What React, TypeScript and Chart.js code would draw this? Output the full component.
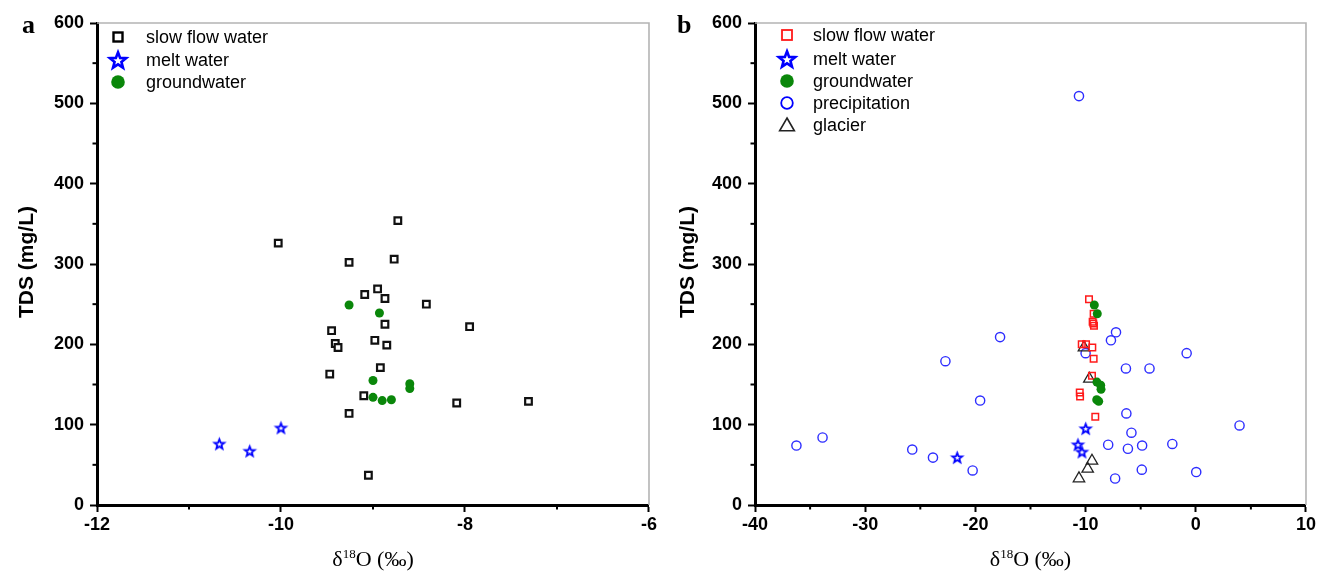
import React, { useEffect, useRef } from 'react';
import { Chart, registerables } from 'chart.js';

Chart.register(...registerables);

const SANS = '"Liberation Sans", Arial, Helvetica, sans-serif';
const SERIF = '"Liberation Serif", "Times New Roman", Times, serif';

// ---------- Panel a data ----------
const slowAX = [-10.03, -9.26, -8.77, -8.73, -8.95, -9.09, -8.87, -8.42, -7.95, -8.87, -9.45, -9.41, -9.38, -8.98, -8.85, -8.92, -9.47, -9.10, -9.26, -8.09, -7.31, -9.05];
const slowAY = [326, 302, 306, 354, 269, 262, 257, 250, 222, 225, 217, 201, 196, 205, 199, 171, 163, 136, 114, 127, 129, 37];
const meltAX = [-10.67, -10.34, -10.0];
const meltAY = [76, 67, 96];
const groundAX = [-9.26, -8.93, -9.0, -8.6, -8.6, -9.0, -8.9, -8.8];
const groundAY = [249, 239, 155, 151, 145, 134, 130, 131];

// ---------- Panel b data ----------
const slowBX = [-9.69, -9.27, -9.36, -9.30, -9.24, -10.35, -9.96, -9.39, -9.27, -9.42, -10.53, -10.5, -9.12];
const slowBY = [256, 238, 228, 226, 223, 200, 200, 196, 182, 161, 140, 135, 110];
const meltBX = [-21.65, -9.99, -10.69, -10.33];
const meltBY = [59, 95, 75, 66];
const groundBX = [-9.21, -8.94, -8.97, -8.63, -8.6, -8.99, -8.81];
const groundBY = [249, 238, 153, 149, 144, 131, 129];
const precipBX = [-36.24, -33.87, -25.73, -23.85, -20.25, -22.72, -17.76, -19.57, -10.6, -10.0, -7.7, -7.24, -6.34, -4.2, -0.83, -6.3, -5.84, -7.95, -6.16, -4.87, -2.13, -4.9, -7.32, 0.04, 3.97];
const precipBY = [74, 84, 69, 59, 43, 179, 209, 130, 509, 189, 205, 215, 170, 170, 189, 114, 90, 75, 70, 74, 76, 44, 33, 41, 99];
const glacierBX = [-10.15, -9.66, -9.42, -9.81, -10.6];
const glacierBY = [196, 157, 55, 45, 33];

// ---------- axis ticks ----------
const yMin = 0, yMax = 600, yStep = 100, yMinor = 50;
const xA = { min: -12, max: -6, step: 2, minor: 1 };
const xB = { min: -40, max: 10, step: 10, minor: 5 };

const legendA = ['slow flow water', 'melt water', 'groundwater'];
const legendB = ['slow flow water', 'melt water', 'groundwater', 'precipitation', 'glacier'];

const BLUE = '#0000ff';
const PBLUE = '#2d2dff';
const GREEN = '#0a870a';
const RED = '#ff1a1a';
const DARK = '#222222';

function starPath(ctx: CanvasRenderingContext2D, cx: number, cy: number, R: number, r: number) {
  ctx.beginPath();
  for (let i = 0; i < 10; i++) {
    const a = -Math.PI / 2 + (i * Math.PI) / 5;
    const rad = i % 2 === 0 ? R : r;
    const px = cx + Math.cos(a) * rad;
    const py = cy + Math.sin(a) * rad;
    if (i === 0) ctx.moveTo(px, py);
    else ctx.lineTo(px, py);
  }
  ctx.closePath();
}

function makeStarImage(R: number, r: number, lw: number, color: string) {
  const size = Math.ceil(2 * R + lw + 4);
  const c = document.createElement('canvas');
  c.width = size;
  c.height = size;
  const ctx = c.getContext('2d')!;
  starPath(ctx, size / 2, size / 2 + R * 0.08, R, r);
  ctx.fillStyle = '#ffffff';
  ctx.fill();
  ctx.lineWidth = lw;
  ctx.lineJoin = 'miter';
  ctx.strokeStyle = color;
  ctx.stroke();
  return c;
}

type MarkerKind = 'sqBlack' | 'star' | 'dot' | 'sqRed' | 'circ' | 'tri';

function drawLegendMarker(ctx: CanvasRenderingContext2D, kind: MarkerKind, x: number, y: number) {
  ctx.save();
  if (kind === 'sqBlack' || kind === 'sqRed') {
    const s = kind === 'sqBlack' ? 9 : 10;
    ctx.lineWidth = kind === 'sqBlack' ? 2.4 : 1.8;
    ctx.strokeStyle = kind === 'sqBlack' ? '#000' : RED;
    ctx.fillStyle = '#fff';
    ctx.fillRect(x - s / 2, y - s / 2, s, s);
    ctx.strokeRect(x - s / 2, y - s / 2, s, s);
  } else if (kind === 'star') {
    starPath(ctx, x, y + 0.8, 8.5, 3.6);
    ctx.fillStyle = '#fff';
    ctx.fill();
    ctx.lineWidth = 2.6;
    ctx.strokeStyle = BLUE;
    ctx.stroke();
  } else if (kind === 'dot') {
    ctx.beginPath();
    ctx.arc(x, y, 6.8, 0, Math.PI * 2);
    ctx.fillStyle = GREEN;
    ctx.fill();
  } else if (kind === 'circ') {
    ctx.beginPath();
    ctx.arc(x, y, 5.8, 0, Math.PI * 2);
    ctx.lineWidth = 1.8;
    ctx.strokeStyle = BLUE;
    ctx.stroke();
  } else if (kind === 'tri') {
    const R = 8.5;
    ctx.beginPath();
    for (let i = 0; i < 3; i++) {
      const a = -Math.PI / 2 + (i * 2 * Math.PI) / 3;
      const px = x + Math.cos(a) * R;
      const py = y + 1.5 + Math.sin(a) * R;
      if (i === 0) ctx.moveTo(px, py);
      else ctx.lineTo(px, py);
    }
    ctx.closePath();
    ctx.lineWidth = 1.6;
    ctx.strokeStyle = DARK;
    ctx.stroke();
  }
  ctx.restore();
}

function drawXTitle(ctx: CanvasRenderingContext2D, cx: number, baseline: number) {
  ctx.save();
  ctx.fillStyle = '#000';
  ctx.textBaseline = 'alphabetic';
  ctx.textAlign = 'left';
  const big = `22px ${SERIF}`;
  const small = `13px ${SERIF}`;
  ctx.font = big;
  const w1 = ctx.measureText('δ').width;
  const w3 = ctx.measureText('O (‰)').width;
  ctx.font = small;
  const w2 = ctx.measureText('18').width;
  let x = cx - (w1 + w2 + w3) / 2;
  ctx.font = big;
  ctx.fillText('δ', x, baseline);
  x += w1;
  ctx.font = small;
  ctx.fillText('18', x, baseline - 8);
  x += w2;
  ctx.font = big;
  ctx.fillText('O (‰)', x, baseline);
  ctx.restore();
}

interface PanelCfg {
  letter: string;
  left: number;
  yAxisWidth: number;
  rightPad: number;
  xr: { min: number; max: number; step: number; minor: number };
  datasets: any[];
  legend: string[];
  legendKinds: MarkerKind[];
  legendX: number;
  legendTextX: number;
  legendRows: number[];
  letterX: number;
  yTitleX: number;
}

function makePlugin(cfg: PanelCfg) {
  return {
    id: 'decor' + cfg.letter,
    afterDraw(chart: any) {
      const ctx: CanvasRenderingContext2D = chart.ctx;
      const { left, right, top, bottom } = chart.chartArea;
      const xs = chart.scales.x;
      const ys = chart.scales.y;
      ctx.save();
      // top & right frame
      ctx.strokeStyle = '#b4b4b4';
      ctx.lineWidth = 1.6;
      ctx.beginPath();
      ctx.moveTo(left, top);
      ctx.lineTo(right, top);
      ctx.lineTo(right, bottom);
      ctx.stroke();
      // minor ticks
      ctx.strokeStyle = '#000';
      ctx.lineWidth = 2;
      for (let v = yMin + yMinor; v < yMax; v += yStep) {
        const py = ys.getPixelForValue(v);
        ctx.beginPath();
        ctx.moveTo(left - 4.5, py);
        ctx.lineTo(left, py);
        ctx.stroke();
      }
      for (let v = cfg.xr.min + cfg.xr.minor; v < cfg.xr.max; v += cfg.xr.step) {
        const px = xs.getPixelForValue(v);
        ctx.beginPath();
        ctx.moveTo(px, bottom);
        ctx.lineTo(px, bottom + 4.5);
        ctx.stroke();
      }
      // legend
      ctx.fillStyle = '#000';
      ctx.font = `18px ${SANS}`;
      ctx.textAlign = 'left';
      ctx.textBaseline = 'middle';
      cfg.legend.forEach((label, i) => {
        drawLegendMarker(ctx, cfg.legendKinds[i], cfg.legendX, cfg.legendRows[i]);
        ctx.fillStyle = '#000';
        ctx.fillText(label, cfg.legendTextX, cfg.legendRows[i] + 1);
      });
      // panel letter
      ctx.font = `bold 26px ${SERIF}`;
      ctx.textBaseline = 'alphabetic';
      ctx.fillText(cfg.letter, cfg.letterX, 33);
      // y title
      ctx.save();
      ctx.translate(cfg.yTitleX, 262);
      ctx.rotate(-Math.PI / 2);
      ctx.textAlign = 'center';
      ctx.textBaseline = 'middle';
      ctx.font = `bold 21px ${SANS}`;
      ctx.fillText('TDS (mg/L)', 0, 0);
      ctx.restore();
      // x title
      drawXTitle(ctx, (left + right) / 2, 566);
      ctx.restore();
    },
  };
}

function pts(xs: number[], ys: number[]) {
  return xs.map((x, i) => ({ x, y: ys[i] }));
}

function Panel({ cfg }: { cfg: PanelCfg }) {
  const ref = useRef<HTMLCanvasElement | null>(null);
  useEffect(() => {
    if (!ref.current) return;
    const tickFont = { family: SANS, size: 18, weight: 'bold' as const };
    const chart = new Chart(ref.current, {
      type: 'scatter',
      data: { datasets: cfg.datasets },
      options: {
        animation: false,
        responsive: false,
        events: [],
        layout: { padding: { top: 23, right: cfg.rightPad, left: 0, bottom: 0 } },
        plugins: { legend: { display: false }, tooltip: { enabled: false } },
        scales: {
          x: {
            type: 'linear',
            min: cfg.xr.min,
            max: cfg.xr.max,
            ticks: { stepSize: cfg.xr.step, color: '#000', font: tickFont, padding: 2, maxRotation: 0, autoSkip: false },
            grid: { drawOnChartArea: false, drawTicks: true, tickLength: 7, tickWidth: 2, tickColor: '#000' },
            border: { color: '#000', width: 3 },
            afterFit: (s: any) => {
              s.height = 71;
            },
          },
          y: {
            type: 'linear',
            min: yMin,
            max: yMax,
            ticks: { stepSize: yStep, color: '#000', font: tickFont, padding: 6, autoSkip: false },
            grid: { drawOnChartArea: false, drawTicks: true, tickLength: 7, tickWidth: 2, tickColor: '#000' },
            border: { color: '#000', width: 3 },
            afterFit: (s: any) => {
              s.width = cfg.yAxisWidth;
            },
          },
        },
      } as any,
      plugins: [makePlugin(cfg)],
    });
    return () => chart.destroy();
  }, [cfg]);
  return (
    <div style={{ position: 'absolute', left: cfg.left, top: 0, width: 659, height: 576 }}>
      <canvas ref={ref} width={659} height={576} style={{ display: 'block' }} />
    </div>
  );
}

const starImg = typeof document !== 'undefined' ? makeStarImage(5.2, 2.2, 1.8, BLUE) : undefined;

const cfgA: PanelCfg = {
  letter: 'a',
  left: 0,
  yAxisWidth: 97,
  rightPad: 10,
  xr: xA,
  legend: legendA,
  legendKinds: ['sqBlack', 'star', 'dot'],
  legendX: 118,
  legendTextX: 146,
  legendRows: [37, 60, 82],
  letterX: 22,
  yTitleX: 27,
  datasets: [
    { label: legendA[0], data: pts(slowAX, slowAY), pointStyle: 'rect', pointRadius: 4.7, borderWidth: 2.2, borderColor: '#111', backgroundColor: '#fff', order: 3 },
    { label: legendA[1], data: pts(meltAX, meltAY), pointStyle: starImg, pointRadius: 5, order: 2 },
    { label: legendA[2], data: pts(groundAX, groundAY), pointStyle: 'circle', pointRadius: 4.5, borderWidth: 0, borderColor: GREEN, backgroundColor: GREEN, order: 1 },
  ],
};

const cfgB: PanelCfg = {
  letter: 'b',
  left: 659,
  yAxisWidth: 96,
  rightPad: 12,
  xr: xB,
  legend: legendB,
  legendKinds: ['sqRed', 'star', 'dot', 'circ', 'tri'],
  legendX: 128,
  legendTextX: 154,
  legendRows: [35, 59, 81, 103, 125],
  letterX: 18,
  yTitleX: 29,
  datasets: [
    { label: legendB[0], data: pts(slowBX, slowBY), pointStyle: 'rect', pointRadius: 4.6, borderWidth: 1.5, borderColor: RED, backgroundColor: 'rgba(255,255,255,0)', order: 3 },
    { label: legendB[1], data: pts(meltBX, meltBY), pointStyle: starImg, pointRadius: 5, order: 2 },
    { label: legendB[2], data: pts(groundBX, groundBY), pointStyle: 'circle', pointRadius: 4.5, borderWidth: 0, borderColor: GREEN, backgroundColor: GREEN, order: 1 },
    { label: legendB[3], data: pts(precipBX, precipBY), pointStyle: 'circle', pointRadius: 4.6, borderWidth: 1.4, borderColor: PBLUE, backgroundColor: 'rgba(255,255,255,0)', order: 5 },
    { label: legendB[4], data: pts(glacierBX, glacierBY), pointStyle: 'triangle', pointRadius: 6.6, borderWidth: 1.3, borderColor: DARK, backgroundColor: 'rgba(255,255,255,0)', order: 4 },
  ],
};

export default function App() {
  return (
    <div style={{ position: 'absolute', left: 0, top: 0, width: 1318, height: 576, background: '#fff' }}>
      <Panel cfg={cfgA} />
      <Panel cfg={cfgB} />
    </div>
  );
}
